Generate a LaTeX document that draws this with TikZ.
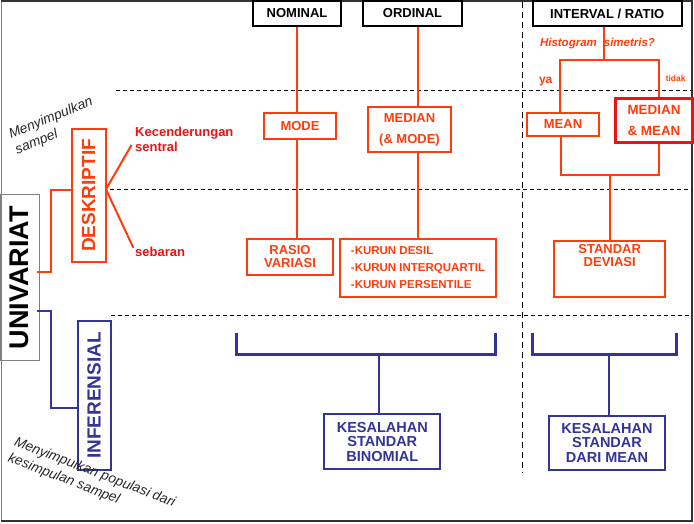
\documentclass[tikz,border=0pt]{standalone}
\usepackage{fontspec}
\setmainfont{Liberation Sans}
\usepackage{xcolor}
\definecolor{orred}{HTML}{FF3C0C}
\definecolor{brred}{HTML}{EE1111}
\definecolor{infblue}{HTML}{333399}

\begin{document}
\begin{tikzpicture}[x=1pt,y=-1pt,
  hdbox/.style={draw=black, line width=2pt, inner sep=0pt, font=\fontsize{13}{15}\selectfont\bfseries},
  redbox/.style={draw=orred, line width=2pt, text=orred, inner sep=0pt, align=center, font=\fontsize{13}{13}\selectfont\bfseries},
  bluebox/.style={draw=infblue, line width=2pt, text=infblue, inner sep=0pt, align=center, font=\fontsize{14.5}{14.5}\selectfont\bfseries},
  redline/.style={draw=orred, line width=2pt},
  blueline/.style={draw=infblue, line width=2pt},
  bracket/.style={draw=infblue, line width=3pt},
  sepline/.style={line width=0.8pt, dash pattern=on 4pt off 3pt},
  note/.style={inner sep=0pt, align=left, text=black!85, font=\fontsize{13.8}{17}\selectfont\itshape}]
\useasboundingbox (0,0) rectangle (694,524);

% Draw the frame
\draw[gray, line width=1pt] (1,1) -- (1,521);
\draw[black!80, line width=2pt] (1,1) -- (692,1) -- (692,521) -- (1,521);

% Draw the dashed separators
\draw[sepline] (116,90.7) -- (692,90.7);
\draw[sepline] (110,189.3) -- (692,189.3);
\draw[sepline] (111,315.7) -- (692,315.7);
\draw[line width=1.5pt, dash pattern=on 6pt off 4pt] (522.3,2) -- (522.3,473);

% Scale headers
\node[hdbox, minimum width=88, minimum height=25] (nominal) at (297,13.5) {NOMINAL};
\node[hdbox, minimum width=99.6, minimum height=25] (ordinal) at (412.5,13.5) {ORDINAL};
\node[hdbox, minimum width=149, minimum height=25] (interval) at (607.2,13.5) {INTERVAL / RATIO};

% Left column
\node[draw=gray, line width=1pt, rotate=90, minimum width=165.7, minimum height=39.3, inner sep=0pt,
  font=\fontsize{27}{27}\selectfont\bfseries] (univ) at (19.7,277.8) {UNIVARIAT};
\node[redbox, rotate=90, minimum width=132, minimum height=34, font=\fontsize{19}{19}\selectfont\bfseries] (deskr) at (88.7,195.5) {DESKRIPTIF};
\node[bluebox, rotate=90, minimum width=149, minimum height=33, font=\fontsize{19}{19}\selectfont\bfseries] (infer) at (94.2,395.5) {INFERENSIAL};
\node[note, rotate=22, anchor=north west] (nsampel) at (7,129) {Menyimpulkan\\sampel};
\node[note, rotate=-21, anchor=north west] (npop) at (17,436) {Menyimpulkan populasi dari\\kesimpulan sampel};
\node[anchor=north west, inner sep=0pt, align=left, text=brred, font=\fontsize{13}{15}\selectfont\bfseries] (kec) at (135,126.5) {Kecenderungan\\sentral};
\node[anchor=base west, inner sep=0pt, text=brred, font=\fontsize{13}{15}\selectfont\bfseries] (seb) at (135,256) {sebaran};

\coordinate (ua) at (37,272.3);
\coordinate (ub) at (37,310.7);
\coordinate (fan) at (106,189.3);
\draw[redline] (ua) -- (51,272.3) |- ([yshift=5.5pt]deskr.north);
\draw[blueline] (ub) -- (51,310.7) |- ([yshift=-12.8pt]infer.north);
\draw[redline, shorten >=7pt] (fan) -- (kec.west);
\draw[redline, shorten >=4pt] (fan) -- (seb.west);

% Nominal and ordinal
\node[redbox, minimum width=72, minimum height=26] (mode) at (300,126) {MODE};
\node[redbox, minimum width=83, minimum height=45, font=\fontsize{13}{21}\selectfont\bfseries] (median) at (409.5,129.5) {MEDIAN\\(\& MODE)};
\node[redbox, minimum width=86, minimum height=36] (rasio) at (290,257) {RASIO\\VARIASI};
\node[redbox, minimum width=156, minimum height=58, align=left, font=\fontsize{11.5}{17}\selectfont\bfseries] (kurun) at (418,268) {-KURUN DESIL\\-KURUN INTERQUARTIL\\-KURUN PERSENTILE};

\draw[redline] (nominal.south) -- (nominal.south |- mode.north);
\draw[redline] (nominal.south |- mode.south) -- (nominal.south |- rasio.north);
\draw[redline] (ordinal.south -| kurun.north) -- (median.north -| kurun.north);
\draw[redline] (median.south -| kurun.north) -- (kurun.north);

% Interval / ratio
\node[text=orred, inner sep=0pt, font=\fontsize{11.5}{13}\selectfont\bfseries\itshape] (histq) at (597.5,44) {Histogram\hspace{7pt}simetris?};
\node[text=orred, inner sep=0pt, font=\fontsize{12}{12}\selectfont\bfseries] (ya) at (545.7,81.7) {ya};
\node[text=orred, inner sep=0pt, font=\fontsize{8.5}{9}\selectfont\bfseries] (tidak) at (675.7,78) {tidak};
\node[redbox, minimum width=72.6, minimum height=22.7] (mean) at (563,124.5) {MEAN};
\node[redbox, draw=brred, line width=2.5pt, minimum width=77, minimum height=44, font=\fontsize{13.4}{21}\selectfont\bfseries] (medmean) at (654,120.3) {MEDIAN\\\& MEAN};
\node[redbox, minimum width=111, minimum height=56,
  label={[text=orred, inner sep=0pt, align=center, font=\fontsize{13}{13}\selectfont\bfseries, anchor=north, yshift=-4pt]north:{STANDAR\\DEVIASI}}] (stdev) at (609.7,269.2) {};

\coordinate (hsplit) at (604.3,60);
\coordinate (hya) at (560,60);
\coordinate (htd) at (659,60);
\coordinate (jya) at (560.7,175);
\coordinate (jtd) at (659,175);
\draw[redline] (interval.south -| hsplit) -- (hsplit);
\draw[redline] (mean.north -| hya) -- (hya) -- (htd) -- (medmean.north -| htd);
\draw[redline] (mean.south -| jya) -- (jya) -- (jtd) -- (medmean.south -| jtd);
\draw[redline] (stdev.north |- jya) -- (stdev.north);

% Inferential row
\node[bluebox, minimum width=116, minimum height=55] (kesbin) at (382.3,441.8) {KESALAHAN\\STANDAR\\BINOMIAL};
\node[bluebox, minimum width=116, minimum height=54] (kesmean) at (607,442.8) {KESALAHAN\\STANDAR\\DARI MEAN};

\coordinate (bra) at (379.3,354.3);
\coordinate (brb) at (609.3,354.3);
\draw[bracket] (236,332.7) |- (495,354.3) -- (495,332.7);
\draw[bracket] (532.3,332.7) |- (676,354.3) -- (676,332.7);
\draw[blueline] (bra) -- (kesbin.north -| bra);
\draw[blueline] (brb) -- (kesmean.north -| brb);
\end{tikzpicture}
\end{document}
